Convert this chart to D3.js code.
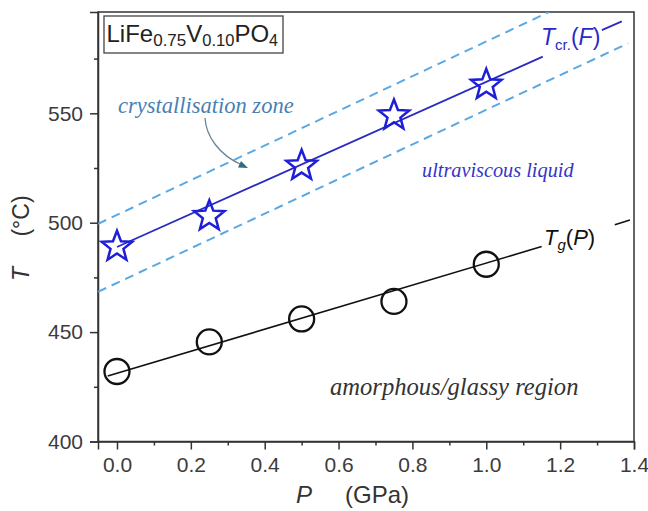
<!DOCTYPE html>
<html><head><meta charset="utf-8">
<script src="https://cdn.jsdelivr.net/npm/d3@7"></script>
<style>body{margin:0;background:#fff}</style>
</head><body><svg id="c" width="648" height="511"></svg>
<script>
// ---- data ----
const pressures = [0, 0.25, 0.5, 0.75, 1.0];
const tCryst = [489, 503, 526, 549, 563];
const tGlass = [432, 445.5, 456, 464, 481];
// fitted lines (segments, broken where the labels sit)
const crFitP = [[0, 1.153], [1.313, 1.367]];
const crFitT = [[488.9, 575.9], [588.0, 592.0]];
const gFitP = [[-0.025, 1.150], [1.348, 1.389]];
const gFitT = [[429.9, 489.1], [499.1, 501.2]];
// crystallisation zone borders
const zoneUpperP = [-0.0514, 1.17];
const zoneUpperT = [499.5, 596.3];
const zoneLowerP = [-0.0514, 1.384];
const zoneLowerT = [468.4, 582.0];
const xTicks = [0, 0.2, 0.4, 0.6, 0.8, 1.0, 1.2, 1.4];
const xMinor = [0.1, 0.3, 0.5, 0.7, 0.9, 1.1, 1.3];
const yTicks = [400, 450, 500, 550];
const yMinor = [425, 475, 525, 575];

// ---- layout ----
const L = 98, R = 634, T = 12, B = 441.5;
const svg = d3.select("#c");
const x = d3.scaleLinear().domain([-0.0514, 1.4]).range([L, R]);
const y = d3.scaleLinear().domain([400, 596.3]).range([B, T]);
const SANS = "'Liberation Sans', Arial, sans-serif";
const SERIF = "'Liberation Serif', 'Times New Roman', serif";

svg.append("defs").append("clipPath").attr("id", "clip")
  .append("rect").attr("x", L).attr("y", T).attr("width", R - L).attr("height", B - T);

// axes
const fmt = d3.format(".1f");
svg.append("g").attr("transform", `translate(0,${B})`)
  .call(d3.axisBottom(x).tickValues(xTicks).tickFormat(fmt).tickSize(8).tickPadding(8));
svg.append("g").attr("transform", `translate(0,${B})`)
  .call(d3.axisBottom(x).tickValues(xMinor).tickFormat("").tickSize(4))
  .call(g => g.select(".domain").remove());
svg.append("g").attr("transform", `translate(${L},0)`)
  .call(d3.axisLeft(y).tickValues(yTicks).tickSize(8).tickPadding(7));
svg.append("g").attr("transform", `translate(${L},0)`)
  .call(d3.axisLeft(y).tickValues(yMinor).tickFormat("").tickSize(4))
  .call(g => g.select(".domain").remove());
svg.selectAll(".tick line").attr("stroke", "#333").attr("stroke-width", 1.5);
svg.selectAll(".domain").attr("stroke", "#333").attr("stroke-width", 1.5);
svg.selectAll(".tick text").attr("font-family", SANS).attr("font-size", 21).attr("fill", "#3c3c3c");

// frame
svg.append("rect").attr("x", L).attr("y", T).attr("width", R - L).attr("height", B - T)
  .attr("fill", "none").attr("stroke", "#333").attr("stroke-width", 1.5);

const plot = svg.append("g").attr("clip-path", "url(#clip)");
const line = d3.line().x(d => x(d[0])).y(d => y(d[1]));

// zone dashed lines
[[zoneUpperP, zoneUpperT], [zoneLowerP, zoneLowerT]].forEach(([ps, ts]) => {
  plot.append("path").attr("d", line(ps.map((p, i) => [p, ts[i]])))
    .attr("fill", "none").attr("stroke", "#5aa9e2").attr("stroke-width", 2)
    .attr("stroke-dasharray", "9,6");
});

// fit lines
crFitP.forEach((ps, k) => {
  plot.append("path").attr("d", line(ps.map((p, i) => [p, crFitT[k][i]])))
    .attr("fill", "none").attr("stroke", "#2a2ac0").attr("stroke-width", 1.8);
});
gFitP.forEach((ps, k) => {
  plot.append("path").attr("d", line(ps.map((p, i) => [p, gFitT[k][i]])))
    .attr("fill", "none").attr("stroke", "#111").attr("stroke-width", 1.6);
});

// star markers
function starPath(Ro, Ri) {
  const pts = d3.range(10).map(i => {
    const a = -Math.PI / 2 + i * Math.PI / 5;
    const r = i % 2 === 0 ? Ro : Ri;
    return [r * Math.cos(a), r * Math.sin(a)];
  });
  return d3.line().curve(d3.curveLinearClosed)(pts);
}
const sp = starPath(16, 6.8);
svg.append("g").selectAll("path.star").data(pressures).join("path")
  .attr("transform", (d, i) => `translate(${x(d)},${y(tCryst[i])})`)
  .attr("d", sp).attr("fill", "none").attr("stroke", "#1e1ed8").attr("stroke-width", 2.5)
  .attr("stroke-linejoin", "miter");

// circle markers
svg.append("g").selectAll("circle").data(pressures).join("circle")
  .attr("cx", d => x(d)).attr("cy", (d, i) => y(tGlass[i])).attr("r", 12.5)
  .attr("fill", "none").attr("stroke", "#111").attr("stroke-width", 2.3);

// series labels
const tcr = svg.append("text").attr("x", 541).attr("y", 45).attr("font-family", SANS)
  .attr("font-size", 23).attr("fill", "#2a2ac6");
tcr.append("tspan").attr("font-style", "italic").text("T");
tcr.append("tspan").attr("font-size", 15).attr("dy", 5).text("cr.");
tcr.append("tspan").attr("dy", -5).text("(");
tcr.append("tspan").attr("font-style", "italic").text("F");
tcr.append("tspan").text(")");

const tg = svg.append("text").attr("x", 544).attr("y", 245).attr("font-family", SANS)
  .attr("font-size", 22).attr("fill", "#111");
tg.append("tspan").attr("font-style", "italic").text("T");
tg.append("tspan").attr("font-style", "italic").attr("font-size", 15).attr("dy", 5).text("g");
tg.append("tspan").attr("dy", -5).text("(");
tg.append("tspan").attr("font-style", "italic").text("P");
tg.append("tspan").text(")");

// region annotations
svg.append("text").attr("x", 118).attr("y", 113).attr("font-family", SERIF)
  .attr("font-style", "italic").attr("font-size", 22.5).attr("fill", "#4a80b2")
  .text("crystallisation zone");
svg.append("text").attr("x", 422).attr("y", 177).attr("font-family", SERIF)
  .attr("font-style", "italic").attr("font-size", 20.3).attr("fill", "#3434c8")
  .text("ultraviscous liquid");
svg.append("text").attr("x", 330).attr("y", 395).attr("font-family", SERIF)
  .attr("font-style", "italic").attr("font-size", 24.6).attr("fill", "#333")
  .text("amorphous/glassy region");

// arrow
svg.append("path").attr("d", "M205,118 C206,136 219,155 242,165")
  .attr("fill", "none").attr("stroke", "#6a8698").attr("stroke-width", 1.3);
svg.append("path").attr("d", "M248,168 L238,167.5 L241,161 Z").attr("fill", "#2f6d80");

// composition box
svg.append("rect").attr("x", 104).attr("y", 16).attr("width", 179).attr("height", 37)
  .attr("fill", "#fff").attr("stroke", "#444").attr("stroke-width", 1.3);
const comp = svg.append("text").attr("x", 106.5).attr("y", 42).attr("font-family", SANS)
  .attr("font-size", 24).attr("fill", "#222");
comp.append("tspan").text("LiFe");
comp.append("tspan").attr("font-size", 17).attr("dy", 4).text("0.75");
comp.append("tspan").attr("dy", -4).text("V");
comp.append("tspan").attr("font-size", 16.5).attr("dy", 4).text("0.10");
comp.append("tspan").attr("dy", -4).text("PO");
comp.append("tspan").attr("font-size", 16).attr("dy", 4).text("4");

// axis titles
const xl = svg.append("text").attr("y", 503).attr("font-family", SANS)
  .attr("font-size", 24).attr("fill", "#333");
xl.append("tspan").attr("x", 296).attr("font-style", "italic").text("P");
xl.append("tspan").attr("x", 345).text("(GPa)");

svg.append("text").attr("transform", "translate(29,274) rotate(-90)")
  .attr("text-anchor", "middle").attr("font-family", SANS).attr("font-size", 23)
  .attr("font-style", "italic").attr("fill", "#333").text("T");
svg.append("text").attr("transform", "translate(29,216) rotate(-90)")
  .attr("text-anchor", "middle").attr("font-family", SANS).attr("font-size", 23)
  .attr("fill", "#333").text("(°C)");
</script></body></html>
